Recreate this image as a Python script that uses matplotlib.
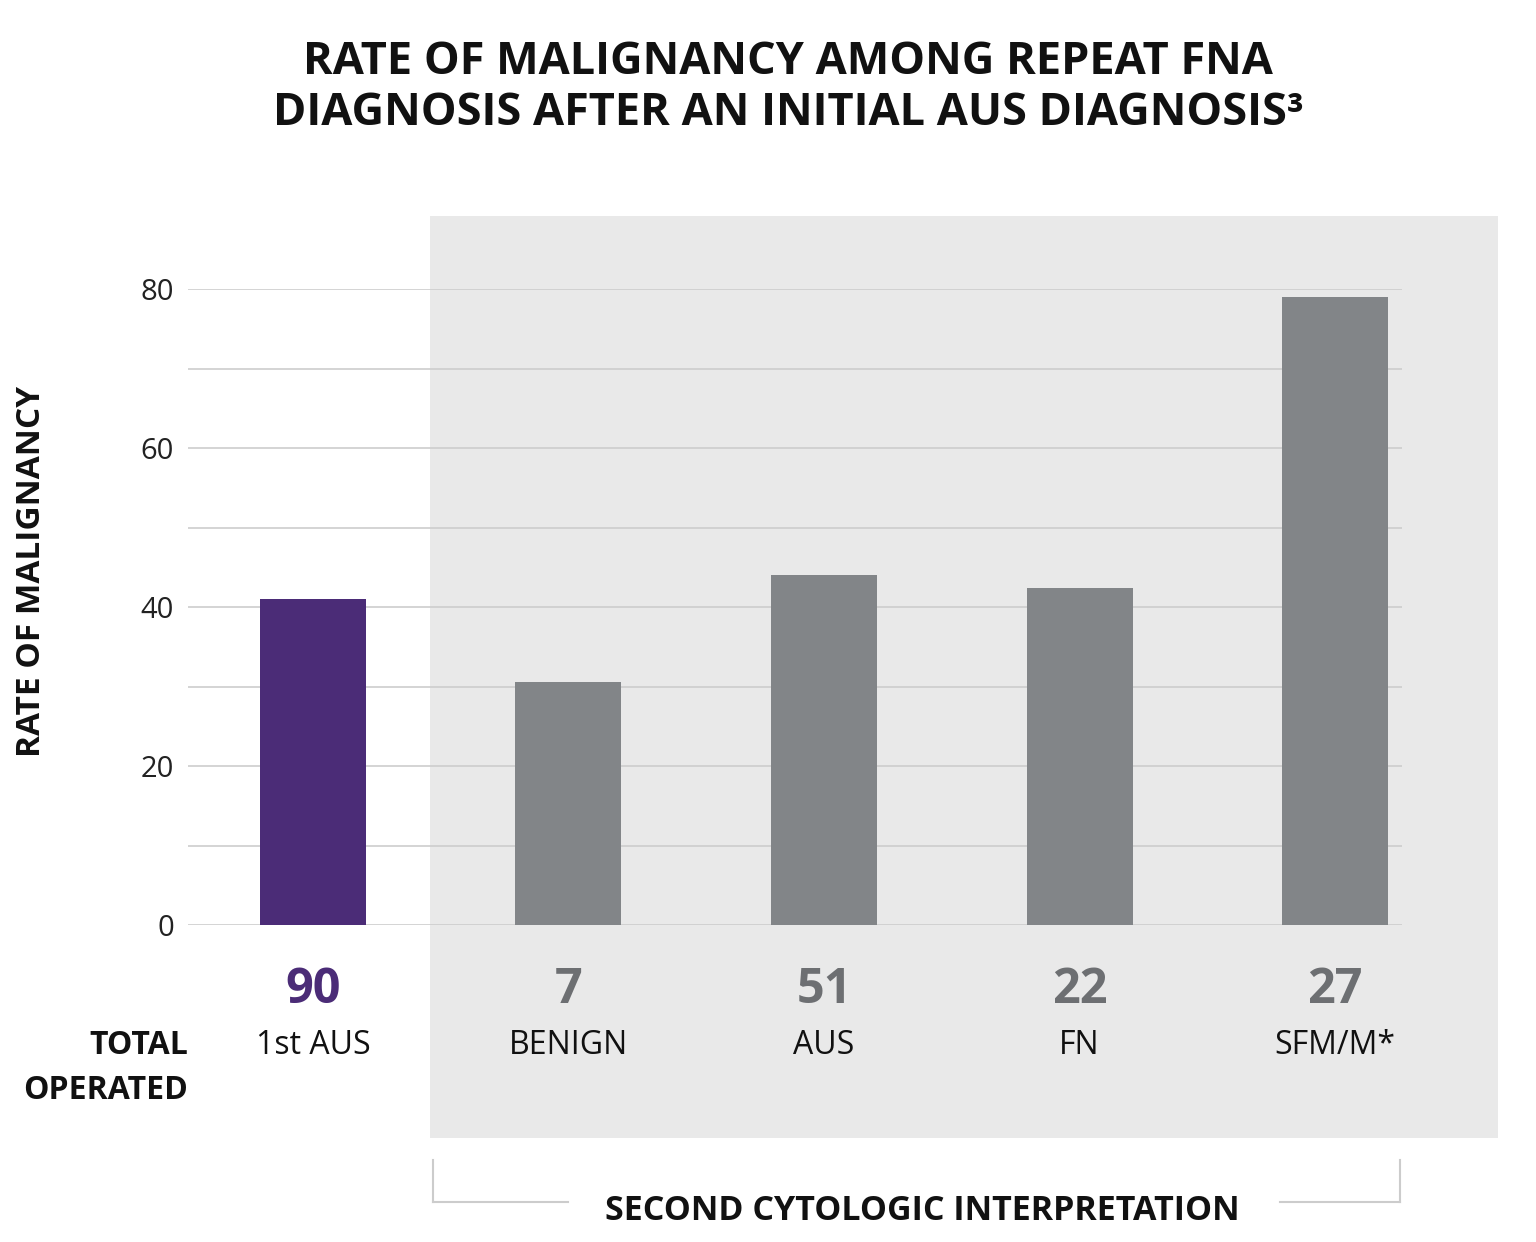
import matplotlib.pyplot as plt
import matplotlib.transforms as mtransforms
from matplotlib.patches import Rectangle
from matplotlib.lines import Line2D

plt.rcParams['font.family'] = ['Open Sans', 'DejaVu Sans']

# data
categories = ['1st AUS', 'BENIGN', 'AUS', 'FN', 'SFM/M*']
malignancy_rate = [41, 30.6, 44, 42.4, 79]
total_operated = [90, 7, 51, 22, 27]
yticks = [0, 20, 40, 60, 80]

W, H = 1536, 1242
fig = plt.figure(figsize=(W / 100, H / 100), dpi=100)

def fx(px):
    return px / W

def fy(py):
    return 1 - py / H

# grey panel behind the "second interpretation" bars
panel = Rectangle((fx(430), fy(1138)), fx(1498) - fx(430), fy(216) - fy(1138),
                  transform=fig.transFigure, facecolor='#e9e9e9', edgecolor='none', zorder=-5)
fig.patches.append(panel)

ax = fig.add_axes([fx(188), fy(925), fx(1402) - fx(188), fy(289) - fy(925)])
ax.patch.set_alpha(0)

x = list(range(len(categories)))
colors = ['#4b2c77'] + ['#828588'] * (len(categories) - 1)
ax.bar(x, malignancy_rate, width=0.415, color=colors, zorder=3)

ax.set_xlim(-0.489, 4.262)
ax.set_ylim(0, 80)
ax.set_yticks(yticks)
ax.set_yticks(range(10, 80, 20), minor=True)
ax.grid(axis='y', which='both', color='#cdcdcd', linewidth=1.2, zorder=0)
ax.set_axisbelow(True)
ax.set_xticks([])
ax.tick_params(axis='y', which='both', length=0, pad=10, labelsize=21, labelcolor='#222222')
for s in ax.spines.values():
    s.set_visible(False)

# counts and category names under the bars
tr = mtransforms.blended_transform_factory(ax.transData, fig.transFigure)
num_colors = ['#4b2c77'] + ['#6d6f72'] * (len(categories) - 1)
for i, (cat, n) in enumerate(zip(categories, total_operated)):
    ax.text(i, fy(1003), str(n), transform=tr, ha='center', va='baseline',
            fontsize=35, fontweight='bold', color=num_colors[i])
    ax.text(i, fy(1054), cat, transform=tr, ha='center', va='baseline',
            fontsize=23, color='#111111')

fig.text(fx(188), fy(1054), 'TOTAL', ha='right', va='baseline', fontsize=23,
         fontweight='bold', color='#111111')
fig.text(fx(188), fy(1099), 'OPERATED', ha='right', va='baseline', fontsize=23,
         fontweight='bold', color='#111111')

# titles
fig.text(fx(788), fy(74), 'RATE OF MALIGNANCY AMONG REPEAT FNA', ha='center', va='baseline',
         fontsize=32.5, fontweight='bold', color='#111111')
fig.text(fx(788), fy(125), 'DIAGNOSIS AFTER AN INITIAL AUS DIAGNOSIS³', ha='center', va='baseline',
         fontsize=32.5, fontweight='bold', color='#111111')
fig.text(fx(32), fy(571), 'RATE OF MALIGNANCY', ha='center', va='center', rotation=90,
         fontsize=24, fontweight='bold', color='#111111')

# bracket under the panel
lc = '#cccccc'
for xs, ys in [((433, 433), (1160, 1202)), ((1400, 1400), (1160, 1202)),
               ((433, 568), (1202, 1202)), ((1280, 1400), (1202, 1202))]:
    fig.add_artist(Line2D([fx(v) for v in xs], [fy(v) for v in ys],
                          transform=fig.transFigure, color=lc, linewidth=1.5))
fig.text(fx(922), fy(1220), 'SECOND CYTOLOGIC INTERPRETATION', ha='center', va='baseline',
         fontsize=24.5, fontweight='bold', color='#111111')

fig.savefig('out.png', dpi=100)
